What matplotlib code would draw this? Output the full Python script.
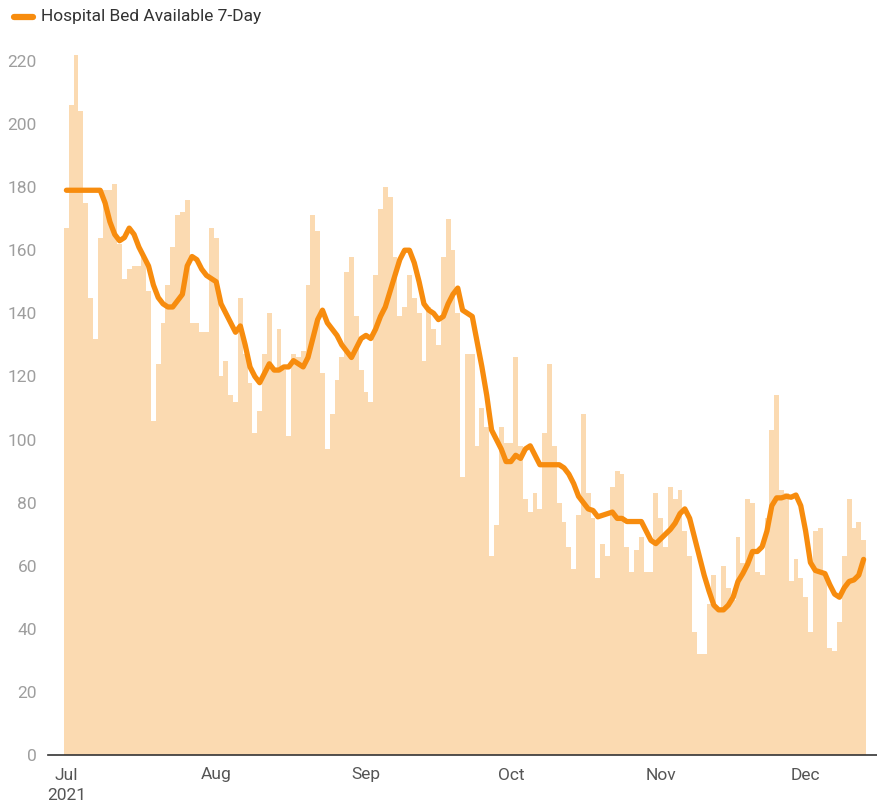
import matplotlib
matplotlib.use("Agg")
import matplotlib.pyplot as plt
import matplotlib.dates as mdates
import pandas as pd

start_date = "2021-07-01"

beds_daily = [
    # Jul
    167, 206, 222, 204, 175, 145, 132, 164, 179, 179, 181, 162, 151, 154, 155, 155,
    158, 147, 106, 124, 137, 149, 161, 171, 172, 176, 137, 137, 134, 134, 167,
    # Aug
    164, 120, 125, 114, 112, 145, 127, 118, 102, 109, 127, 140, 122, 135, 122, 101,
    127, 126, 128, 149, 171, 166, 121, 97, 108, 119, 126, 153, 158, 139, 122,
    # Sep
    115, 112, 152, 173, 180, 177, 158, 139, 142, 152, 145, 140, 125, 142, 135, 130,
    158, 170, 160, 140, 88, 127, 127, 98, 110, 104, 63, 73, 104, 99,
    # Oct
    99, 126, 98, 81, 77, 83, 78, 102, 124, 98, 80, 74, 66, 59, 76, 108,
    83, 75, 56, 67, 63, 85, 90, 89, 66, 58, 65, 69, 58, 58, 83,
    # Nov
    75, 66, 85, 81, 84, 71, 63, 39, 32, 32, 48, 57, 46, 60, 53, 49,
    69, 61, 81, 80, 58, 57, 75, 103, 114, 84, 83, 55, 62, 56,
    # Dec
    50, 39, 71, 72, 58, 34, 33, 42, 63, 81, 72, 74, 68,
]

beds_7day = [
    # Jul
    179, 179, 179, 179, 179, 179, 179, 179, 175, 169, 165, 163, 164, 167, 165, 161,
    158, 155, 149, 145, 143, 142, 142, 144, 146, 155, 158, 157, 154, 152, 151,
    # Aug
    150, 143, 140, 137, 134, 136, 130, 123, 120, 118, 121, 124, 122, 122, 123, 123,
    125, 124, 123, 126, 132, 138, 141, 137, 135, 133, 130, 128, 126, 129, 132,
    # Sep
    133, 132, 135, 139, 142, 147, 152, 157, 160, 160, 156, 150, 143, 141, 140, 138,
    139, 143, 146, 148, 141, 140, 139, 131, 123, 114, 103, 100, 97, 93,
    # Oct
    93, 95, 94, 97, 98, 95, 92, 92, 92, 92, 92, 91, 89, 86, 82, 80,
    78, 77.5, 75.5, 76, 76.5, 77, 75, 75, 74, 74, 74, 74, 71, 68, 67,
    # Nov
    68.5, 70, 71.5, 73.5, 76.5, 78, 75, 69, 63, 57, 52, 47.5, 46, 46, 47.5, 50,
    55, 57.5, 60.5, 64.5, 64.5, 66, 71, 79, 81.5, 81.5, 82, 81.7, 82.4, 79,
    # Dec
    71, 61, 58.5, 58, 57.5, 54, 51, 50, 53, 55, 55.5, 57, 62,
]

month_ticks = ["2021-07-01", "2021-08-01", "2021-09-01", "2021-10-01",
               "2021-11-01", "2021-12-01"]
month_labels = ["Jul\n2021", "Aug", "Sep", "Oct", "Nov", "Dec"]
y_ticks = [0, 20, 40, 60, 80, 100, 120, 140, 160, 180, 200, 220]

series_name = "Hospital Bed Available 7-Day"

plt.rcParams["font.family"] = ["Roboto", "DejaVu Sans"]

dates = pd.date_range(start_date, periods=len(beds_daily), freq="D")

W, H = 877, 806
fig = plt.figure(figsize=(W / 100, H / 100), dpi=100)
ax = fig.add_axes([48 / W, (H - 755) / H, (W - 48) / W, (755 - 38) / H])

bar_color = "#FBDAB1"
line_color = "#F78C0E"

ax.bar(dates, beds_daily, width=1.0, color=bar_color, edgecolor="none",
       align="center", zorder=1)
ax.plot(dates, beds_7day, color=line_color, lw=3.8, solid_capstyle="round",
        solid_joinstyle="round", zorder=3)

x0 = mdates.date2num(dates[0]) - 0.5
x1 = mdates.date2num(dates[-1]) + 0.5
px_per_day = (866 - 64) / len(beds_daily)
ax.set_xlim(x0 - 16 / px_per_day, x1 + 11 / px_per_day)
ax.set_ylim(0, (755 - 38) / 3.155)

ax.set_yticks(y_ticks)
ax.set_yticklabels([str(v) for v in y_ticks])
ax.set_xticks(pd.to_datetime(month_ticks))
ax.set_xticklabels(month_labels, linespacing=1.45)

for s in ["top", "right", "left"]:
    ax.spines[s].set_visible(False)
ax.spines["bottom"].set_color("#333333")
ax.spines["bottom"].set_linewidth(1.2)
ax.spines["bottom"].set_zorder(4)

ax.tick_params(axis="y", length=0, pad=8, labelsize=12.5, labelcolor="#9e9e9e")
ax.tick_params(axis="x", length=0, pad=9, labelsize=12.5, labelcolor="#555555")

# legend at the top-left
fig.add_artist(plt.Line2D([14 / W, 33 / W], [1 - 17 / H, 1 - 17 / H],
                          color=line_color, lw=4.5, solid_capstyle="round"))
fig.text(41 / W, 1 - 17 / H, series_name, fontsize=12.5, color="#333333",
         va="center", ha="left")

fig.savefig("out.png", dpi=100, facecolor="white")
